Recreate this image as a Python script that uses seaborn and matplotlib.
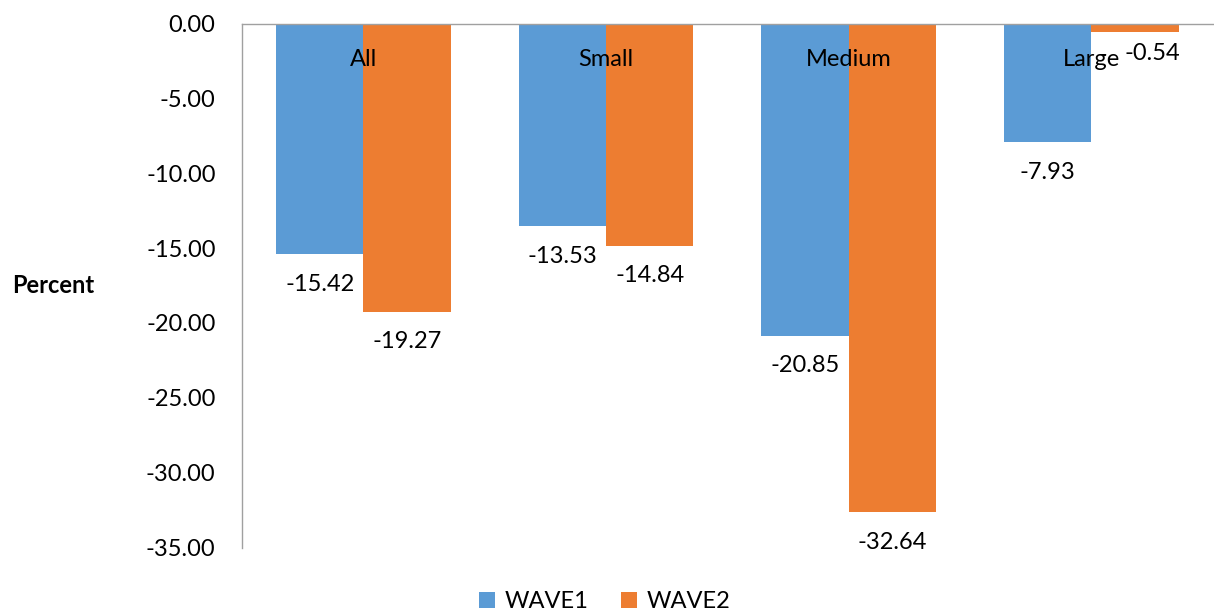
import matplotlib
matplotlib.use("Agg")
import matplotlib.pyplot as plt
from matplotlib.lines import Line2D
import pandas as pd
import seaborn as sns

# Change in percent by firm size, two survey waves
categories = ["All", "Small", "Medium", "Large"]
series_names = ["WAVE1", "WAVE2"]
wave1 = [-15.42, -13.53, -20.85, -7.93]
wave2 = [-19.27, -14.84, -32.64, -0.54]
y_ticks = [0, -5, -10, -15, -20, -25, -30, -35]

colors = {"WAVE1": "#5B9BD5", "WAVE2": "#ED7D31"}

df = pd.DataFrame({
    "category": categories * 2,
    "series": [series_names[0]] * len(categories) + [series_names[1]] * len(categories),
    "value": wave1 + wave2,
})

sns.set_theme(style="white")
plt.rcParams["font.family"] = ["Lato", "DejaVu Sans"]
for key in ["text.color", "axes.labelcolor", "xtick.color", "ytick.color"]:
    plt.rcParams[key] = "black"
FS = 17

fig = plt.figure(figsize=(12.14, 6.15), dpi=100)
ax = fig.add_axes([242 / 1214, 1 - 547.5 / 615, 1 - 242 / 1214 - 0.001, (547.5 - 23.5) / 615])

sns.barplot(data=df, x="category", y="value", hue="series", order=categories,
            hue_order=series_names, palette=colors, width=0.72, saturation=1,
            linewidth=0, legend=False, ax=ax)

ax.set_ylim(-35, 0)
ax.set_xlim(-0.5, len(categories) - 0.5)
ax.set_yticks(y_ticks)
ax.set_yticklabels([f"{v:.2f}" for v in y_ticks], fontsize=FS)
ax.tick_params(axis="y", length=0, pad=19)

# Category labels sit just under the zero line at the top, drawn over the bars
ax.set_axisbelow(False)
ax.tick_params(axis="x", length=0, top=True, labeltop=True, bottom=False,
               labelbottom=False, pad=-18, labelsize=FS)
for lbl in ax.get_xticklabels():
    lbl.set_va("top")

ax.set_xlabel("")
ax.set_ylabel("Percent", rotation=0, fontsize=FS, fontweight="bold", ha="left", va="center")
ax.yaxis.set_label_coords((12 - 242) / 972, 0.5)

for side in ["right", "bottom"]:
    ax.spines[side].set_visible(False)
for side in ["left", "top"]:
    ax.spines[side].set_visible(True)
    ax.spines[side].set_color("#a0a0a0")
    ax.spines[side].set_linewidth(1.0)

# Value labels below each bar end
nudges = {("WAVE2", "Large"): (12.5, -8)}
for name, cont in zip(series_names, ax.containers):
    anns = ax.bar_label(cont, fmt="%.2f", padding=14, fontsize=FS, color="black")
    for cat, ann in zip(categories, anns):
        if (name, cat) in nudges:
            ann.xyann = nudges[(name, cat)]

handles = [Line2D([], [], marker="s", linestyle="none", markersize=11,
                  markerfacecolor=colors[n], markeredgewidth=0) for n in series_names]
fig.legend(handles, series_names, loc="center", bbox_to_anchor=(604 / 1214, 1 - 602 / 615),
           ncol=2, frameon=False, fontsize=FS, handlelength=0.8, handletextpad=0.35,
           columnspacing=1.3)

fig.savefig("out.png", dpi=100)
